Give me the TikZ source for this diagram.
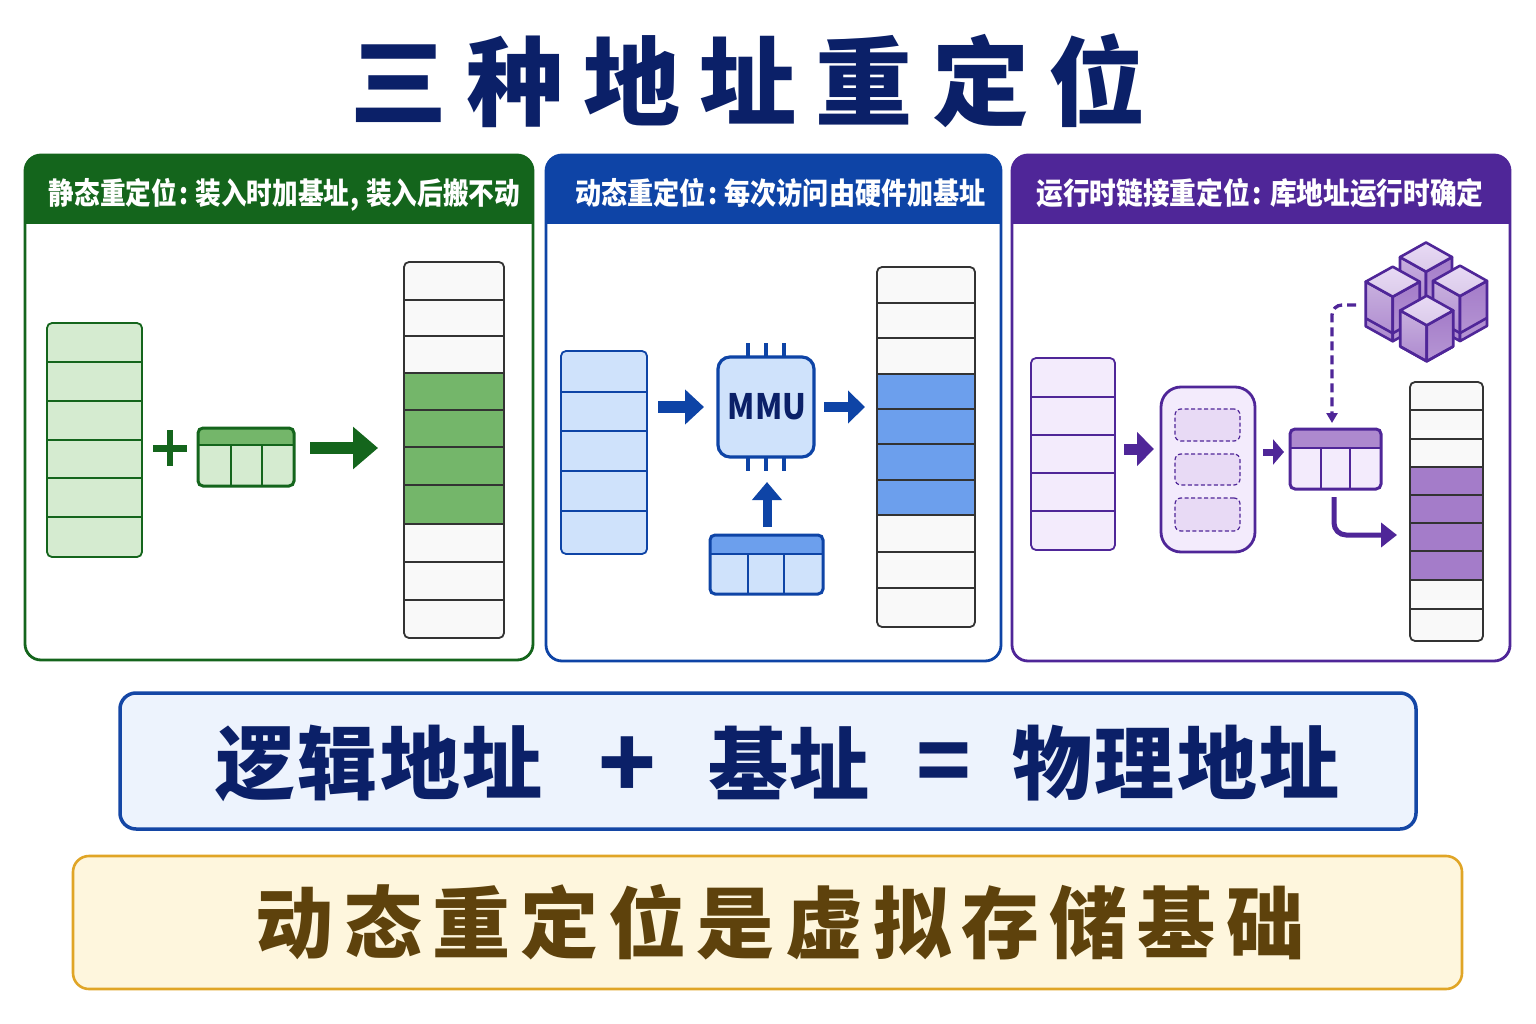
\documentclass[tikz,border=0pt]{standalone}
\usepackage{fontspec}
\usetikzlibrary{arrows.meta,calc}
\newfontfamily\cjkfont{Noto Sans CJK SC}
\newfontfamily\cjkblack{Noto Sans CJK SC Black}

\definecolor{gdark}{HTML}{14651C}
\definecolor{gmid}{HTML}{74B66A}
\definecolor{glight}{HTML}{D5EBD0}
\definecolor{bdark}{HTML}{0E44A6}
\definecolor{bmid}{HTML}{6C9FED}
\definecolor{blight}{HTML}{CFE2FB}
\definecolor{pdark}{HTML}{4F2698}
\definecolor{pmid}{HTML}{A47CC9}
\definecolor{plight}{HTML}{F3EBFC}
\definecolor{pdash}{HTML}{E8DAF5}
\definecolor{memline}{HTML}{333333}
\definecolor{memfill}{HTML}{F9F9F9}
\definecolor{navy}{HTML}{0B2068}
\definecolor{formulaborder}{HTML}{1446A5}
\definecolor{formulafill}{HTML}{EDF3FD}
\definecolor{notecolor}{HTML}{5E420C}
\definecolor{noteborder}{HTML}{E0A526}
\definecolor{notefill}{HTML}{FEF6DD}

\tikzset{
  boxbase/.style={inner sep=0pt,outer sep=0pt},
  headtext/.style={text=white,font={\cjkfont\bfseries\fontsize{30}{30}\selectfont},transform shape,xscale=#1},
  blockarrow/.style args={#1/#2/#3/#4}{draw=#1,line width=#2pt,-{Triangle[length=#3pt,width=#4pt,fill=#1]}},
  cubeedge/.style={draw=pdark,line width=2.6pt,line join=round},
  bigtext/.style={font={\cjkblack\fontsize{80}{80}\selectfont},text=navy,boxbase}
}

% A panel with a coloured title band and a rounded frame
\newcommand{\panel}[7]{% name, x1, x2, y1, y2, band bottom, colour
  \node[boxbase,draw=none,minimum width={(#3-#2)*1pt},minimum height={(#5-#4)*1pt},
        rounded corners=16pt] (#1) at ({(#2+#3)/2},{(#4+#5)/2}) {};
  \begin{scope}
    \clip[rounded corners=16pt] (#2,#4) rectangle (#3,#5);
    \fill[#7] (#2,#4) rectangle (#3,#6);
  \end{scope}
  \draw[#7,line width=2.8pt,rounded corners=16pt] (#2,#4) rectangle (#3,#5);
}

% A stack of memory slots; #9 is drawn between the fill and the row lines
\newcommand{\slotstack}[9]{% name, x1, y1, x2, y2, fill, line, rows, extra
  \fill[#6,rounded corners=5pt] (#2,#3) rectangle (#4,#5);
  #9
  \foreach \r in {#8} \draw[#7,line width=1.5pt] (#2,\r) -- (#4,\r);
  \node[boxbase,draw=#7,line width=1.8pt,rounded corners=5pt,
        minimum width={(#4-#2)*1pt},minimum height={(#5-#3)*1pt}]
        (#1) at ({(#2+#4)/2},{(#3+#5)/2}) {};
}

% A small three-column table with a darker top row
\newcommand{\basetable}[9]{% name, x1, y1, x2, y2, header bottom, family, col a, col b
  \begin{scope}
    \clip[rounded corners=5pt] (#2,#3) rectangle (#4,#5);
    \fill[\csname tabcell#7\endcsname] (#2,#3) rectangle (#4,#5);
    \fill[\csname tabhead#7\endcsname] (#2,#3) rectangle (#4,#6);
  \end{scope}
  \draw[\csname tabline#7\endcsname,line width=2.4pt] (#2,#6) -- (#4,#6);
  \draw[\csname tabline#7\endcsname,line width=1.6pt] (#8,#6) -- (#8,#5) (#9,#6) -- (#9,#5);
  \node[boxbase,draw=\csname tabline#7\endcsname,line width=3pt,rounded corners=5pt,
        minimum width={(#4-#2)*1pt},minimum height={(#5-#3)*1pt}]
        (#1) at ({(#2+#4)/2},{(#3+#5)/2}) {};
}
\newcommand{\tabcellg}{glight}\newcommand{\tabheadg}{gmid}\newcommand{\tablineg}{gdark}
\newcommand{\tabcellb}{blight}\newcommand{\tabheadb}{bmid}\newcommand{\tablineb}{bdark}
\newcommand{\tabcellp}{plight}\newcommand{\tabheadp}{pmid!90!white}\newcommand{\tablinep}{pdark}

% An isometric library block: apex x, apex y, half width, half depth, height, slab
\newcommand{\isoblock}[6]{%
  \filldraw[cubeedge,top color=pmid!60!white,bottom color=pmid!90!white]
    (#1-#3,#2+#4) -- (#1,#2+2*#4) -- (#1,#2+2*#4+#5+#6) -- (#1-#3,#2+#4+#5+#6) -- cycle;
  \filldraw[cubeedge,top color=pmid,bottom color=pmid!80!white]
    (#1+#3,#2+#4) -- (#1,#2+2*#4) -- (#1,#2+2*#4+#5+#6) -- (#1+#3,#2+#4+#5+#6) -- cycle;
  \filldraw[cubeedge,top color=pdash,bottom color=pmid!40!white]
    (#1,#2) -- (#1+#3,#2+#4) -- (#1,#2+2*#4) -- (#1-#3,#2+#4) -- cycle;
  \draw[cubeedge] (#1-#3,#2+#4+#5) -- (#1,#2+2*#4+#5) -- (#1+#3,#2+#4+#5);
}

\begin{document}
\begin{tikzpicture}[x=1pt,y=-1pt]
\useasboundingbox (0,0) rectangle (1536,1024);
\fill[white] (0,0) rectangle (1536,1024);

% Title
\node[boxbase,text=navy,font={\cjkblack\fontsize{97}{97}\selectfont}] (title) at (748,81)
  {三\kern19.3pt 种\kern19.3pt 地\kern19.3pt 址\kern19.3pt 重\kern19.3pt 定\kern19.3pt 位};

% Static relocation panel
\panel{gpanel}{25}{533}{155}{660}{224}{gdark}
\node[headtext=.855] (ghead) at (284.5,195) {静态重定位\kern3pt:\kern8pt 装入时加基址\kern1pt,\kern8pt 装入后搬不动};
\slotstack{gcol}{47}{323}{142}{557}{glight}{gdark}{362,401,440,478,517}{}
\draw[gdark,line width=6.5pt] (153,448.5) -- (187,448.5) (170,430) -- (170,466);
\basetable{gtable}{198}{428}{294}{486}{445}{g}{231}{262}
\slotstack{gmem}{404}{262}{504}{638}{memfill}{memline}{300,336,373,410,447,485,524,562,600}
  {\fill[gmid] (404,373) rectangle (504,524);}
\draw[blockarrow=gdark/12/25/41] ([xshift=16pt,yshift=9pt]gtable.east) -- ([xshift=-26pt,yshift=2pt]gmem.west);

% Dynamic relocation panel
\panel{bpanel}{546}{1001}{155}{661}{224}{bdark}
\node[headtext=.87] (bhead) at (780.5,193) {动态重定位\kern3pt:\kern8pt 每次访问由硬件加基址};
\slotstack{bcol}{561}{351}{647}{554}{blight}{bdark}{392,431,471,511}{}
\foreach \px in {748,766,784}
  \draw[bdark,line width=3.6pt] (\px,343) -- (\px,471);
\node[boxbase,draw=bdark,line width=3.2pt,fill=blight,rounded corners=12pt,
      minimum width=96pt,minimum height=100pt,text=navy] (mmu) at (766,407)
  {\hspace{2pt}\scalebox{.89}[1]{\cjkfont\bfseries\fontsize{35}{35}\selectfont MMU}};
\basetable{btable}{710}{535}{823}{594}{554}{b}{748}{784}
\slotstack{bmem}{877}{267}{975}{627}{memfill}{memline}{303,338,374,409,444,480,515,552,588}
  {\fill[bmid] (877,374) rectangle (975,515);}
\draw[blockarrow=bdark/12/19/34] ([xshift=11pt,yshift=45.5pt]bcol.east) -- ([xshift=-14pt]mmu.west);
\draw[blockarrow=bdark/10/17/32] ([xshift=10pt]mmu.east) -- ([xshift=-12pt,yshift=40pt]bmem.west);
\draw[blockarrow=bdark/9/18/29] ([xshift=.5pt,yshift=8pt]btable.north) -- ([xshift=1pt,yshift=-25pt]mmu.south);

% Run-time linking panel
\panel{ppanel}{1012}{1510}{155}{661}{224}{pdark}
\node[headtext=.89] (phead) at (1260,193) {运行时链接重定位\kern3pt:\kern9pt 库地址运行时确定};
\slotstack{pcol}{1031}{358}{1115}{550}{plight}{pdark}{397,435,473,511}{}
\node[boxbase,draw=pdark,line width=2.8pt,fill=plight,rounded corners=20pt,
      minimum width=94pt,minimum height=165pt] (plib) at (1208,469.5) {};
\foreach \n/\ya/\yb in {sa/409/441,sb/454/485,sc/498/531}
  \node[boxbase,draw=pdark,line width=1.2pt,dash pattern=on 4pt off 2.5pt,fill=pdash,rounded corners=6pt,
        minimum width=65pt,minimum height={(\yb-\ya)*1pt}] (\n) at (1207.5,{(\ya+\yb)/2}) {};
\basetable{ptable}{1290}{429}{1381}{489}{448}{p}{1321}{1350}
\slotstack{pmem}{1410}{382}{1483}{641}{memfill}{memline}{410,439,467,495,523,551,580,609}
  {\fill[pmid] (1410,467) rectangle (1483,580);}
\isoblock{1426}{242.5}{26}{14.6}{36}{0}
\isoblock{1392.7}{266.7}{27}{15}{36.6}{8}
\isoblock{1460}{265.7}{27}{15.2}{37}{8}
\isoblock{1426.7}{295.7}{26.5}{14.8}{36}{0}
\coordinate (libend) at (1356,305);
\draw[blockarrow=pdark/11/17/33] ([xshift=9pt,yshift=5pt]pcol.east) -- ([xshift=-7pt,yshift=20.5pt]plib.west);
\draw[blockarrow=pdark/7/11/25] ([xshift=8pt,yshift=17.5pt]plib.east) -- ([xshift=-6pt,yshift=7pt]ptable.west);
\draw[pdark,line width=3.3pt,dash pattern=on 9pt off 5pt,rounded corners=10pt,-{Triangle[length=10pt,width=11pt]}]
  (libend) -| ([xshift=-3.5pt,yshift=6pt]ptable.north);
\draw[pdark,line width=5pt,rounded corners=12pt,-{Triangle[length=16pt,width=24pt]}]
  ([xshift=-1.5pt,yshift=-8pt]ptable.south) |- ([xshift=-13pt,yshift=-23.5pt]pmem.west);

% Address formula
\node[boxbase,draw=formulaborder,line width=3.5pt,fill=formulafill,rounded corners=16pt,
      minimum width=1296pt,minimum height=136pt] (formula) at (768,761) {};
\node[bigtext] (logical) at (379,763) {逻\kern2.5pt 辑\kern2.5pt 地\kern2.5pt 址};
\node[bigtext,font={\cjkfont\bfseries\fontsize{95}{95}\selectfont}] (plus) at (627,768) {+};
\node[bigtext] (base) at (789,763) {基\kern1pt 址};
\node[bigtext,font={\cjkfont\bfseries\fontsize{90}{90}\selectfont}] (equal) at (944,769) {=};
\node[bigtext] (physical) at (1176,763) {物\kern2.5pt 理\kern2.5pt 地\kern2.5pt 址};

% Closing note
\node[boxbase,draw=noteborder,line width=2.6pt,fill=notefill,rounded corners=16pt,
      minimum width=1389pt,minimum height=133pt] (note) at (767.5,922.5) {};
\node[boxbase,text=notecolor,font={\cjkblack\fontsize{78}{78}\selectfont}] (notetext) at (780,922)
  {动\kern10.2pt 态\kern10.2pt 重\kern10.2pt 定\kern10.2pt 位\kern10.2pt 是\kern10.2pt 虚\kern10.2pt 拟\kern10.2pt 存\kern10.2pt 储\kern10.2pt 基\kern10.2pt 础};
\end{tikzpicture}
\end{document}
